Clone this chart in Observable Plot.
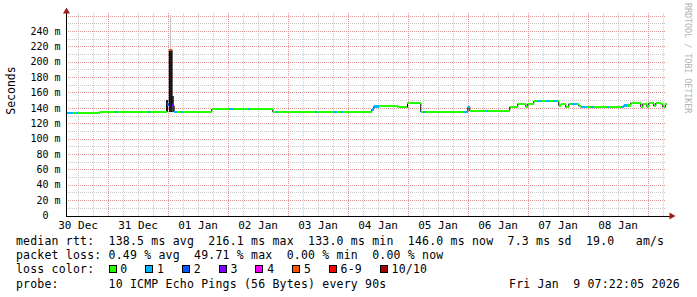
<!DOCTYPE html>
<html><head><meta charset="utf-8">
<script src="https://cdn.jsdelivr.net/npm/d3@7"></script>
<script src="https://cdn.jsdelivr.net/npm/@observablehq/plot@0.6"></script>
<style>
html,body{margin:0;padding:0;background:#fff;}
#wrap{position:relative;width:697px;height:297px;overflow:hidden;font-family:"DejaVu Sans Mono",monospace;background:#fff;}
#chart svg{display:block;}
.row{position:absolute;left:16px;white-space:pre;font-size:11.5px;letter-spacing:0.2px;line-height:14.2px;height:14.2px;color:#000;}
.sw{position:absolute;top:2.7px;width:6px;height:6px;border:1px solid #000;}
.lab{position:absolute;top:0;}
#stamp{position:absolute;right:17px;white-space:pre;font-size:11.5px;letter-spacing:0.2px;line-height:14.2px;}
#wm{position:absolute;left:683px;top:3px;writing-mode:vertical-rl;font-size:8.5px;letter-spacing:-0.1px;color:#b4b4b4;white-space:pre;}
</style>
</head><body>
<div id="wrap"><div id="chart"></div><div id="legend"></div><div id="wm"></div></div>
<script>
// ---- data ----
const startTime = "2025-12-30T07:22:05Z";
const endTime = "2026-01-09T07:22:05Z";
const yTop = 263.4;

const lossLabels = ["0","1","2","3","4","5","6-9","10/10"];
const lossColors = ["#26ff00","#00b8ff","#0059ff","#7e00ff","#ff00ff","#ff5500","#ff0000","#a10000"];

const stepTimes = [
"2025-12-30T07:22:05Z","2025-12-30T09:53Z","2025-12-30T11:05Z","2025-12-30T11:53Z","2025-12-30T20:41Z",
"2025-12-31T02:41Z","2025-12-31T03:29Z","2025-12-31T15:53Z","2025-12-31T16:41Z","2025-12-31T23:29Z",
"2026-01-01T00:29Z","2026-01-01T01:36Z","2026-01-01T02:24Z","2026-01-01T03:29Z","2026-01-01T05:05Z",
"2026-01-01T05:53Z","2026-01-01T17:29Z","2026-01-02T00:17Z","2026-01-02T02:17Z","2026-01-02T07:53Z",
"2026-01-02T08:41Z","2026-01-02T17:53Z","2026-01-02T19:05Z","2026-01-02T19:53Z","2026-01-03T10:41Z",
"2026-01-03T11:29Z","2026-01-03T18:17Z","2026-01-03T19:29Z","2026-01-03T21:05Z","2026-01-03T21:53Z",
"2026-01-04T09:29Z","2026-01-04T10:17Z","2026-01-04T12:17Z","2026-01-04T19:53Z","2026-01-04T23:46Z",
"2026-01-05T05:05Z","2026-01-05T05:53Z","2026-01-05T07:05Z","2026-01-05T21:53Z","2026-01-05T23:53Z",
"2026-01-06T00:41Z","2026-01-06T07:05Z","2026-01-06T07:53Z","2026-01-06T16:41Z","2026-01-06T19:53Z",
"2026-01-06T23:05Z","2026-01-06T23:53Z","2026-01-07T02:17Z","2026-01-07T03:29Z","2026-01-07T05:29Z",
"2026-01-07T07:05Z","2026-01-07T08:41Z","2026-01-07T09:53Z","2026-01-07T11:53Z","2026-01-07T12:17Z",
"2026-01-07T13:05Z","2026-01-07T15:05Z","2026-01-07T16:17Z","2026-01-07T17:05Z","2026-01-07T19:29Z",
"2026-01-07T20:17Z","2026-01-07T21:05Z","2026-01-07T23:29Z","2026-01-08T01:05Z","2026-01-08T02:17Z",
"2026-01-08T07:29Z","2026-01-08T08:17Z","2026-01-08T13:05Z","2026-01-08T14:17Z","2026-01-08T15:29Z",
"2026-01-08T17:05Z","2026-01-08T21:05Z","2026-01-08T21:53Z","2026-01-08T23:29Z","2026-01-09T00:17Z",
"2026-01-09T02:17Z","2026-01-09T03:05Z","2026-01-09T05:05Z","2026-01-09T05:53Z","2026-01-09T06:53Z"
];
const stepMedian = [
134.2,134.2,134.2,134.2,135.5,
135.5,135.5,135.5,135.5,145.0,
216.1,143.5,135.5,135.5,135.5,
135.5,139.1,139.1,139.1,139.1,
139.1,135.5,135.5,135.5,135.5,
135.5,135.5,135.5,135.5,135.5,
138.5,142.4,143.3,141.5,147.2,
135.5,135.5,135.5,135.5,141.5,
136.8,136.8,136.8,142.0,145.9,
142.0,145.9,149.3,149.3,149.3,
149.3,149.3,149.3,149.3,143.7,
145.4,141.5,145.9,145.9,145.9,
143.0,141.5,141.5,141.5,141.5,
141.5,141.5,141.5,143.7,143.7,
147.0,142.0,145.9,142.5,146.7,
143.0,146.7,145.4,141.5,146.0
];
const stepLoss = [
1,0,1,0,0,
1,0,1,0,2,
5,3,1,0,1,
0,0,1,0,1,
0,0,1,0,1,
0,1,0,1,0,
1,1,0,0,0,
0,1,0,1,1,
0,1,0,0,0,
0,0,0,1,0,
1,0,1,0,0,
0,0,0,1,0,
0,1,0,1,0,
1,0,1,1,0,
0,0,0,0,0,
0,0,0,0,0
];

const smokeStart = ["2025-12-31T23:29Z","2026-01-01T00:29Z","2026-01-01T00:58Z","2026-01-01T01:36Z"];
const smokeEnd   = ["2025-12-31T23:59Z","2026-01-01T01:36Z","2026-01-01T01:29Z","2026-01-01T02:24Z"];
const smokeLow   = [134.5, 134.5, 216.1, 134.5];
const smokeHigh  = [150.5, 216.1, 260.5, 155.0];
const smokeShade = ["dense","dense","faint","medium"];

const yLabelTicks = [0,20,40,60,80,100,120,140,160,180,200,220,240];
const yMinorTicks = [10,30,50,70,90,110,130,150,170,190,210,230,250];
const yMajorTicks = [20,40,60,80,100,120,140,160,180,200,220,240,260];
const dayLabelTimes = ["2025-12-30T12:00Z","2025-12-31T12:00Z","2026-01-01T12:00Z","2026-01-02T12:00Z","2026-01-03T12:00Z",
  "2026-01-04T12:00Z","2026-01-05T12:00Z","2026-01-06T12:00Z","2026-01-07T12:00Z","2026-01-08T12:00Z"];

const rttValues = [138.5, 216.1, 133.0, 146.0];
const statNames = ["avg","max","min","now"];
const rttSd = 7.3;
const amPerS = 19.0;
const lossValues = [0.49, 49.71, 0.00, 0.00];
const probeText = "10 ICMP Echo Pings (56 Bytes) every 90s";
const stampText = "Fri Jan  9 07:22:05 2026";
const watermark = "RRDTOOL / TOBI OETIKER";

// ---- build ----
const T = s => new Date(s);
const start = T(startTime), end = T(endTime);
const lossLabel = n => n <= 5 ? String(n) : (n < 10 ? "6-9" : "10/10");
const segs = stepTimes.map((s, i) => ({
  t0: T(s), t1: i + 1 < stepTimes.length ? T(stepTimes[i+1]) : end,
  v: stepMedian[i], loss: lossLabel(stepLoss[i])
}));
const linePts = segs.map(d => ({t: d.t0, v: d.v})).concat([{t: end, v: stepMedian[stepMedian.length-1]}]);
const smoke = smokeStart.map((s, i) => ({t0: T(s), t1: T(smokeEnd[i]), lo: smokeLow[i], hi: smokeHigh[i], shade: smokeShade[i]}));
const shadeFill = {dense: "#1e1e1e", medium: "#4a4a4a", faint: "#c4c4c4"};

// grid times
const sixHours = d3.utcHour.every(6).range(start, end);
const midnights = sixHours.filter(d => d.getUTCHours() === 0);
const minorTimes = sixHours.filter(d => d.getUTCHours() !== 0);
const xArrow = new Date(end.getTime() + 2 * 3600e3);
const yArrow = 266;

const minorColor = "#c8c8c8", majorColor = "#e09a9a", arrowColor = "#9a1f1f";

const chart = Plot.plot({
  width: 697, height: 232,
  marginLeft: 66, marginRight: 31, marginTop: 13, marginBottom: 16.5,
  x: {type: "utc", domain: [start, end]},
  y: {domain: [0, yTop]},
  color: {domain: lossLabels, range: lossColors},
  style: {fontFamily: "DejaVu Sans Mono", background: "white", color: "#000", overflow: "visible"},
  marks: [
    Plot.ruleY(yMinorTicks, {stroke: minorColor, strokeDasharray: "1,1", shapeRendering: "crispEdges"}),
    Plot.ruleX(minorTimes, {stroke: minorColor, strokeDasharray: "1,1", shapeRendering: "crispEdges"}),
    Plot.ruleY(yMajorTicks.filter(v => v < yTop), {stroke: majorColor, strokeDasharray: "1,1", shapeRendering: "crispEdges"}),
    Plot.ruleX(midnights, {stroke: majorColor, strokeDasharray: "1,1", shapeRendering: "crispEdges"}),
    Plot.rect(smoke, {x1: "t0", x2: "t1", y1: "lo", y2: "hi", fill: d => shadeFill[d.shade], shapeRendering: "crispEdges"}),
    Plot.line(linePts, {x: "t", y: "v", curve: "step-after", stroke: "#000", strokeWidth: 1}),
    Plot.link(segs, {x1: "t0", x2: "t1", y1: "v", y2: "v", stroke: "loss", strokeWidth: 2.5, shapeRendering: "crispEdges"}),
    Plot.ruleY([0], {x1: start, x2: xArrow, stroke: "#000", shapeRendering: "crispEdges"}),
    Plot.ruleX([start], {y1: 0, y2: yArrow, stroke: "#000", shapeRendering: "crispEdges"}),
    Plot.dot([{x: xArrow, y: 0}], {x: "x", y: "y", symbol: "triangle", rotate: 90, r: 2.6, fill: arrowColor, stroke: null}),
    Plot.dot([{x: start, y: yArrow}], {x: "x", y: "y", symbol: "triangle", r: 2.6, fill: arrowColor, stroke: null}),
    Plot.axisY(yLabelTicks, {tickSize: 0, tickPadding: 6, fontSize: 10, label: null,
      tickFormat: d => d === 0 ? "0\u00a0\u00a0" : `${d} m`}),
    Plot.axisX(dayLabelTimes.map(T), {tickSize: 0, tickPadding: 5, fontSize: 11, label: null,
      tickFormat: d3.utcFormat("%d %b")}),
    Plot.text(["Seconds"], {frameAnchor: "left", rotate: -90, dx: -55, fontSize: 11.5, fill: "#000"})
  ]
});
document.getElementById("chart").appendChild(chart);

// ---- legend ----
const legend = document.getElementById("legend");
const rowTop = i => 233.9 + i * 14.2;
function row(i) {
  const r = document.createElement("div");
  r.className = "row";
  r.style.top = rowTop(i) + "px";
  legend.appendChild(r);
  return r;
}
row(0).textContent = "median rtt:  " + rttValues.map((v, i) => `${v.toFixed(1)} ms ${statNames[i]}`).join("  ")
  + `  ${rttSd.toFixed(1)} ms sd  ${amPerS.toFixed(1)}   am/s`;
row(1).textContent = "packet loss: " + lossValues.map((v, i) => `${v.toFixed(2)} % ${statNames[i]}`).join("  ");
const r3 = row(2);
r3.textContent = "loss color:";
let x = 92.6;
lossLabels.forEach((lab, i) => {
  const sw = document.createElement("span");
  sw.className = "sw"; sw.style.left = x + "px"; sw.style.background = lossColors[i];
  r3.appendChild(sw);
  const t = document.createElement("span");
  t.className = "lab"; t.style.left = (x + 11.7) + "px"; t.textContent = lab;
  r3.appendChild(t);
  x += 11.7 + lab.length * 7.12 + 17.9;
});
const r4 = row(3);
r4.style.width = "664px";
r4.textContent = "probe:       " + probeText;
const st = document.createElement("span");
st.id = "stamp"; st.style.right = "0px"; st.style.top = "0px"; st.textContent = stampText;
r4.appendChild(st);
document.getElementById("wm").textContent = watermark;
</script>
</body></html>
